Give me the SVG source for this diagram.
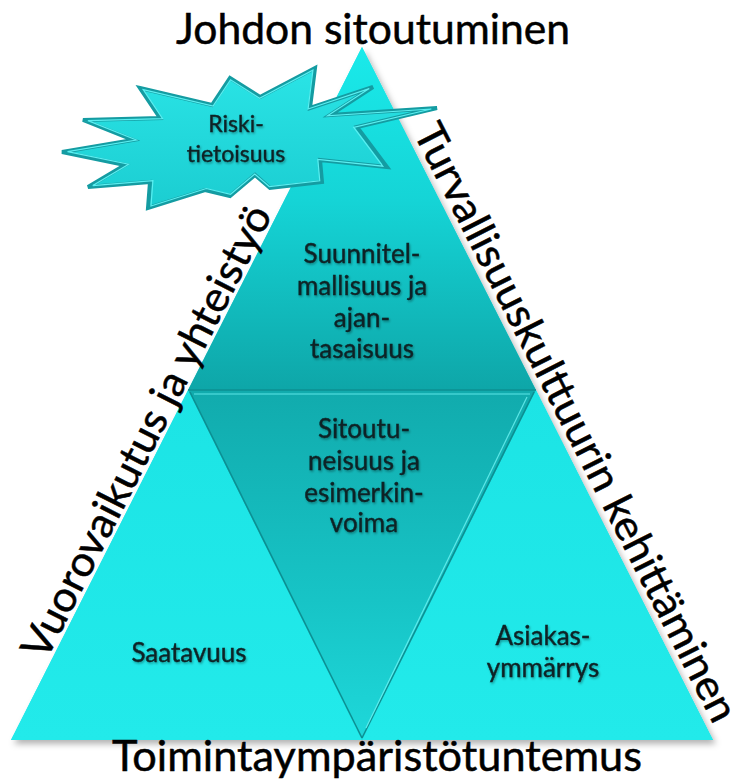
<svg xmlns="http://www.w3.org/2000/svg" width="749" height="780" viewBox="0 0 749 780">
<defs>
<linearGradient id="gTop" x1="0" y1="47" x2="0" y2="390" gradientUnits="userSpaceOnUse">
<stop offset="0" stop-color="#1AEAEA"/><stop offset="0.45" stop-color="#15D4D6"/><stop offset="1" stop-color="#0EA6A8"/>
</linearGradient>
<linearGradient id="gMid" x1="0" y1="390" x2="0" y2="740" gradientUnits="userSpaceOnUse">
<stop offset="0" stop-color="#11ABAD"/><stop offset="0.6" stop-color="#17C4C6"/><stop offset="1" stop-color="#1ED8DA"/>
</linearGradient>
<linearGradient id="gSide" x1="0" y1="390" x2="0" y2="740" gradientUnits="userSpaceOnUse">
<stop offset="0" stop-color="#1CE4E5"/><stop offset="1" stop-color="#22EAEA"/>
</linearGradient>
<linearGradient id="gStar" x1="0" y1="68" x2="0" y2="208" gradientUnits="userSpaceOnUse">
<stop offset="0" stop-color="#2AE4E6"/><stop offset="1" stop-color="#1BCDD1"/>
</linearGradient>
<filter id="shadow" x="-10%" y="-10%" width="120%" height="120%">
<feDropShadow dx="3" dy="4" stdDeviation="3" flood-color="#000" flood-opacity="0.3"/>
</filter>
<filter id="tshadow" x="-10%" y="-20%" width="120%" height="140%">
<feDropShadow dx="1" dy="1.5" stdDeviation="1" flood-color="#000" flood-opacity="0.35"/>
</filter>
<style>
.outer{font-family:Lato,"Liberation Sans",sans-serif;font-size:42px;fill:#000;stroke:#000;stroke-width:0.5;text-anchor:middle}
.inner{font-family:Lato,"Liberation Sans",sans-serif;font-size:26px;fill:#0B2426;stroke:#0B2426;stroke-width:0.4;text-anchor:middle}
.edge{fill:none;stroke:#0C8F92;stroke-width:1.5}
.hl{fill:none;stroke:#6FF4F4;stroke-width:1.2;opacity:0.8}
</style>
</defs>

<g id="pyramid" filter="url(#shadow)">
<polygon points="362,47 713,740 11,740" fill="#1EE3E4"/>
</g>

<g id="top">
<polygon points="362,47 536,390 188,390" fill="url(#gTop)"/>
<g filter="url(#tshadow)">
<text class="inner" x="362" y="263">Suunnitel-</text>
<text class="inner" x="362" y="295">mallisuus ja</text>
<text class="inner" x="362" y="327">ajan-</text>
<text class="inner" x="362" y="358">tasaisuus</text>
</g>
</g>

<g id="left">
<polygon points="188,390 362,740 11,740" fill="url(#gSide)"/>
<text class="inner" x="189" y="662" filter="url(#tshadow)">Saatavuus</text>
</g>

<g id="right">
<polygon points="536,390 713,740 362,740" fill="url(#gSide)"/>
<g filter="url(#tshadow)">
<text class="inner" x="543" y="645">Asiakas-</text>
<text class="inner" x="543" y="677">ymmärrys</text>
</g>
</g>

<g id="middle">
<polygon points="188,390 536,390 362,740" fill="url(#gMid)"/>
<g filter="url(#tshadow)">
<text class="inner" x="364" y="438">Sitoutu-</text>
<text class="inner" x="364" y="470">neisuus ja</text>
<text class="inner" x="364" y="502">esimerkin-</text>
<text class="inner" x="364" y="532">voima</text>
</g>
</g>

<g id="connectors">
<line class="edge" x1="188" y1="390" x2="536" y2="390"/>
<line class="edge" x1="190" y1="392" x2="362" y2="738"/>
<line class="edge" x1="534" y1="392" x2="362" y2="738"/>
<line class="hl" x1="194" y1="394" x2="530" y2="394"/>
<line class="hl" x1="527" y1="397" x2="366" y2="728"/>
</g>

<g id="riski">
<path d="M140,88 L212,105 L230,78 L260,97 L315,68 L310,108 L373,87 L330,115 L437,108 L357,127 L387,167 L320,160 L322,182 L270,188 L255,175 L230,196 L205,190 L148,208 L150,182 L88,187 L125,165 L62,152 L133,140 L83,120 L160,118 Z" fill="url(#gStar)" stroke="#149CA2" stroke-width="4" stroke-linejoin="miter"/>
<path d="M140,88 L212,105 L230,78 L260,97 L315,68 L310,108 L373,87 L330,115 L437,108 L357,127 L387,167 L320,160 L322,182 L270,188 L255,175 L230,196 L205,190 L148,208 L150,182 L88,187 L125,165 L62,152 L133,140 L83,120 L160,118 Z" fill="none" stroke="#5BEFF1" stroke-width="1.2" transform="translate(247,140) scale(0.97) translate(-247,-140)"/>
<g filter="url(#tshadow)">
<text class="inner" x="236" y="132" style="font-size:23px">Riski-</text>
<text class="inner" x="236" y="162" style="font-size:23px">tietoisuus</text>
</g>
</g>

<g id="labels">
<text class="outer" x="373" y="44" textLength="394" lengthAdjust="spacingAndGlyphs">Johdon sitoutuminen</text>
<text class="outer" x="377" y="771" textLength="530" lengthAdjust="spacingAndGlyphs">Toimintaympäristötuntemus</text>
<text class="outer" transform="translate(163,440) rotate(-63.1)" x="0" y="-4" textLength="502" lengthAdjust="spacingAndGlyphs">Vuorovaikutus ja yhteistyö</text>
<text class="outer" transform="translate(557,432) rotate(63.1)" x="0" y="-7" textLength="665" lengthAdjust="spacingAndGlyphs">Turvallisuuskulttuurin kehittäminen</text>
</g>
</svg>
